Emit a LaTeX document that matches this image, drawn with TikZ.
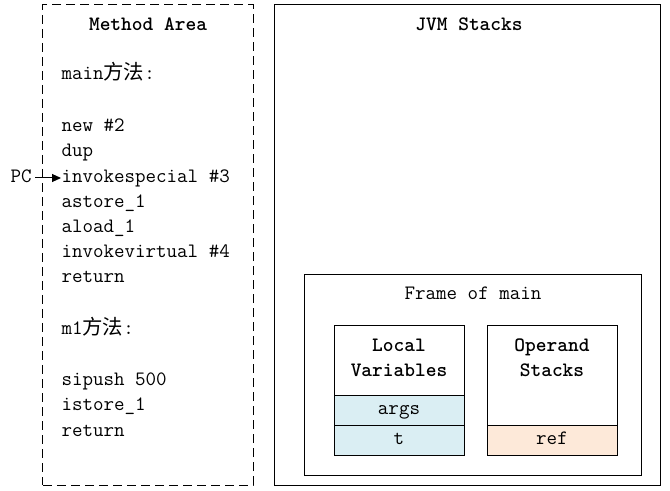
\documentclass[tikz,border=0pt]{standalone}
\usepackage{fontspec}
\newfontfamily\cjk{Noto Sans CJK SC}
\usetikzlibrary{arrows.meta}
\definecolor{lvblue}{HTML}{DAEEF3}
\definecolor{oporange}{HTML}{FDE9D9}
\begin{document}
\begin{tikzpicture}[x=1bp,y=-1bp,
  font=\ttfamily\fontsize{20.5}{24}\selectfont,
  line width=1bp,
  code/.style={anchor=west,inner sep=0pt,text height=1.0em,text depth=0.1em},
  ttl/.style={inner sep=0pt,font=\ttfamily\bfseries\fontsize{20.5}{24}\selectfont},
  cell/.style={draw,inner sep=0pt,minimum width=130bp,minimum height=30bp,text height=1.0em,text depth=0.1em}]
\useasboundingbox (0,0) rectangle (670,491);
% Method area
\node[draw,dashed,dash pattern=on 9bp off 5bp,inner sep=0pt,minimum width=210bp,minimum height=480bp] (ma) at (148,245) {};
\node[ttl] (mat) at (148,24) {Method Area};
\node[code] (c1) at (61,75) {main{\cjk 方法}:};
\node[code] (c2) at (61,127) {new \#2};
\node[code] (c3) at (61,152) {dup};
\node[code] (c4) at (61,178) {invokespecial \#3};
\node[code] (c5) at (61,203) {astore\_1};
\node[code] (c6) at (61,228) {aload\_1};
\node[code] (c7) at (61,253) {invokevirtual \#4};
\node[code] (c8) at (61,278) {return};
\node[code] (c9) at (61,330) {m1{\cjk 方法}:};
\node[code] (c10) at (61,381) {sipush 500};
\node[code] (c11) at (61,406) {istore\_1};
\node[code] (c12) at (61,432) {return};
\node[code] (pc) at (10,178) {PC};
\draw[-{Triangle[length=9bp,width=8bp]}] (pc.east) ++(3,0) coordinate (pcs) -- (c4.west);
% JVM stacks
\node[draw,inner sep=0pt,minimum width=386bp,minimum height=480bp] (jvm) at (467,245) {};
\node[ttl] (jvmt) at (469,24) {JVM Stacks};
\node[draw,inner sep=0pt,minimum width=337bp,minimum height=200bp] (frame) at (472.5,375) {};
\node[inner sep=0pt,text height=1.0em,text depth=0.1em] (framet) at (473,295) {Frame of main};
% Local variables
\node[draw,inner sep=0pt,minimum width=130bp,minimum height=130bp] (lv) at (399,390) {};
\node[ttl,align=center] (lvt) at (399,358) {Local\\[1bp]Variables};
\node[cell,fill=lvblue] (args) at (399,410) {args};
\node[cell,fill=lvblue] (t) at (399,440) {t};
% Operand stacks
\node[draw,inner sep=0pt,minimum width=130bp,minimum height=130bp] (os) at (552,390) {};
\node[ttl,align=center] (ost) at (552,358) {Operand\\[1bp]Stacks};
\node[cell,fill=oporange] (ref) at (552,440) {ref};
\end{tikzpicture}
\end{document}
